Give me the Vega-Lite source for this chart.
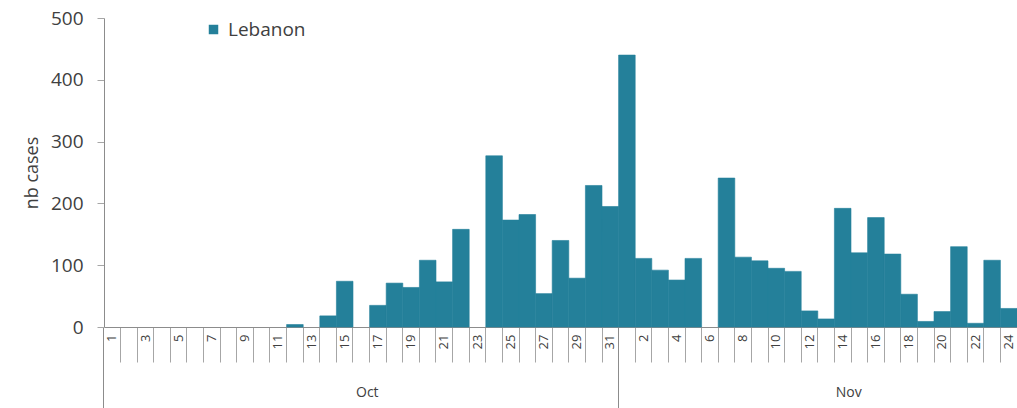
{
  "$schema": "https://vega.github.io/schema/vega-lite/v6.json",
  "autosize": {"type": "none"},
  "padding": {"left": 104, "top": 18, "right": 0, "bottom": 81},
  "width": 913,
  "height": 309,
  "background": "white",
  "config": {
    "view": {"stroke": null},
    "font": "Open Sans",
    "axis": {"labelFont": "Open Sans", "titleFont": "Open Sans", "labelColor": "#404040", "titleColor": "#404040", "domainColor": "#8c8c8c", "tickColor": "#a6a6a6", "grid": false}
  },
  "data": {
    "values": [
      {"date": "2019-10-01", "cases": 0, "series": "Lebanon"},
      {"date": "2019-10-02", "cases": 0, "series": "Lebanon"},
      {"date": "2019-10-03", "cases": 0, "series": "Lebanon"},
      {"date": "2019-10-04", "cases": 0, "series": "Lebanon"},
      {"date": "2019-10-05", "cases": 0, "series": "Lebanon"},
      {"date": "2019-10-06", "cases": 0, "series": "Lebanon"},
      {"date": "2019-10-07", "cases": 0, "series": "Lebanon"},
      {"date": "2019-10-08", "cases": 0, "series": "Lebanon"},
      {"date": "2019-10-09", "cases": 0, "series": "Lebanon"},
      {"date": "2019-10-10", "cases": 0, "series": "Lebanon"},
      {"date": "2019-10-11", "cases": 0, "series": "Lebanon"},
      {"date": "2019-10-12", "cases": 4, "series": "Lebanon"},
      {"date": "2019-10-13", "cases": 0, "series": "Lebanon"},
      {"date": "2019-10-14", "cases": 18, "series": "Lebanon"},
      {"date": "2019-10-15", "cases": 74, "series": "Lebanon"},
      {"date": "2019-10-16", "cases": 0, "series": "Lebanon"},
      {"date": "2019-10-17", "cases": 35, "series": "Lebanon"},
      {"date": "2019-10-18", "cases": 71, "series": "Lebanon"},
      {"date": "2019-10-19", "cases": 64, "series": "Lebanon"},
      {"date": "2019-10-20", "cases": 108, "series": "Lebanon"},
      {"date": "2019-10-21", "cases": 73, "series": "Lebanon"},
      {"date": "2019-10-22", "cases": 158, "series": "Lebanon"},
      {"date": "2019-10-23", "cases": 0, "series": "Lebanon"},
      {"date": "2019-10-24", "cases": 277, "series": "Lebanon"},
      {"date": "2019-10-25", "cases": 173, "series": "Lebanon"},
      {"date": "2019-10-26", "cases": 182, "series": "Lebanon"},
      {"date": "2019-10-27", "cases": 54, "series": "Lebanon"},
      {"date": "2019-10-28", "cases": 140, "series": "Lebanon"},
      {"date": "2019-10-29", "cases": 79, "series": "Lebanon"},
      {"date": "2019-10-30", "cases": 229, "series": "Lebanon"},
      {"date": "2019-10-31", "cases": 195, "series": "Lebanon"},
      {"date": "2019-11-01", "cases": 440, "series": "Lebanon"},
      {"date": "2019-11-02", "cases": 111, "series": "Lebanon"},
      {"date": "2019-11-03", "cases": 92, "series": "Lebanon"},
      {"date": "2019-11-04", "cases": 76, "series": "Lebanon"},
      {"date": "2019-11-05", "cases": 111, "series": "Lebanon"},
      {"date": "2019-11-06", "cases": 0, "series": "Lebanon"},
      {"date": "2019-11-07", "cases": 241, "series": "Lebanon"},
      {"date": "2019-11-08", "cases": 113, "series": "Lebanon"},
      {"date": "2019-11-09", "cases": 107, "series": "Lebanon"},
      {"date": "2019-11-10", "cases": 95, "series": "Lebanon"},
      {"date": "2019-11-11", "cases": 90, "series": "Lebanon"},
      {"date": "2019-11-12", "cases": 26, "series": "Lebanon"},
      {"date": "2019-11-13", "cases": 13, "series": "Lebanon"},
      {"date": "2019-11-14", "cases": 192, "series": "Lebanon"},
      {"date": "2019-11-15", "cases": 120, "series": "Lebanon"},
      {"date": "2019-11-16", "cases": 177, "series": "Lebanon"},
      {"date": "2019-11-17", "cases": 118, "series": "Lebanon"},
      {"date": "2019-11-18", "cases": 53, "series": "Lebanon"},
      {"date": "2019-11-19", "cases": 9, "series": "Lebanon"},
      {"date": "2019-11-20", "cases": 25, "series": "Lebanon"},
      {"date": "2019-11-21", "cases": 130, "series": "Lebanon"},
      {"date": "2019-11-22", "cases": 6, "series": "Lebanon"},
      {"date": "2019-11-23", "cases": 108, "series": "Lebanon"},
      {"date": "2019-11-24", "cases": 30, "series": "Lebanon"}
    ]
  },
  "layer": [
    {
      "mark": {"type": "bar", "stroke": "#24809a"},
      "encoding": {
        "x": {
          "field": "date", "type": "ordinal", "sort": "ascending",
          "scale": {"paddingInner": 0, "paddingOuter": 0},
          "axis": {
            "orient": "bottom", "title": null, "bandPosition": 0,
            "tickSize": {"condition": {"test": "slice(datum.value,8)=='01'", "value": 81}, "value": 35},
            "tickColor": {"condition": {"test": "slice(datum.value,8)=='01'", "value": "#8c8c8c"}, "value": "#a6a6a6"},
            "labelAngle": -90,
            "labelPadding": {"condition": {"test": "slice(datum.value,8)=='01'", "value": -74}, "value": -28},
            "labelFontSize": 13, "labelOverlap": false, "labelBound": false,
            "labelExpr": "((slice(datum.value,5,7)=='10') == (toNumber(slice(datum.value,8))%2==1)) ? ('' + toNumber(slice(datum.value,8))) : ''"
          }
        },
        "y": {
          "field": "cases", "type": "quantitative",
          "scale": {"domain": [0, 500], "nice": false},
          "axis": {"title": "nb cases", "values": [0, 100, 200, 300, 400, 500], "tickSize": 7, "labelPadding": 14, "labelFontSize": 19, "titleFontSize": 18, "titleFontWeight": "normal", "titlePadding": 9}
        },
        "strokeWidth": {"condition": {"test": "datum.cases > 0", "value": 0.6}, "value": 0},
        "color": {
          "field": "series", "type": "nominal",
          "scale": {"range": ["#24809a"]},
          "legend": {"title": null, "orient": "none", "legendX": 100, "legendY": 2, "symbolType": "square", "symbolSize": 90, "symbolStrokeWidth": 0, "labelFontSize": 19, "labelColor": "#404040", "labelFont": "Open Sans", "labelOffset": 5}
        }
      }
    },
    {
      "mark": {"type": "bar", "opacity": 0},
      "encoding": {
        "x": {
          "field": "date", "type": "ordinal",
          "axis": {"orient": "bottom", "title": null, "values": ["2019-10-16", "2019-11-14"], "ticks": false, "tickSize": 0, "domain": false, "labelPadding": 58, "labelOffset": 6, "labelFontSize": 14, "labelAngle": 0,
            "labelExpr": "slice(datum.value,5,7)=='10' ? 'Oct' : 'Nov'"}
        },
        "y": {"field": "cases", "type": "quantitative"}
      }
    }
  ],
  "resolve": {"axis": {"x": "independent"}}
}
